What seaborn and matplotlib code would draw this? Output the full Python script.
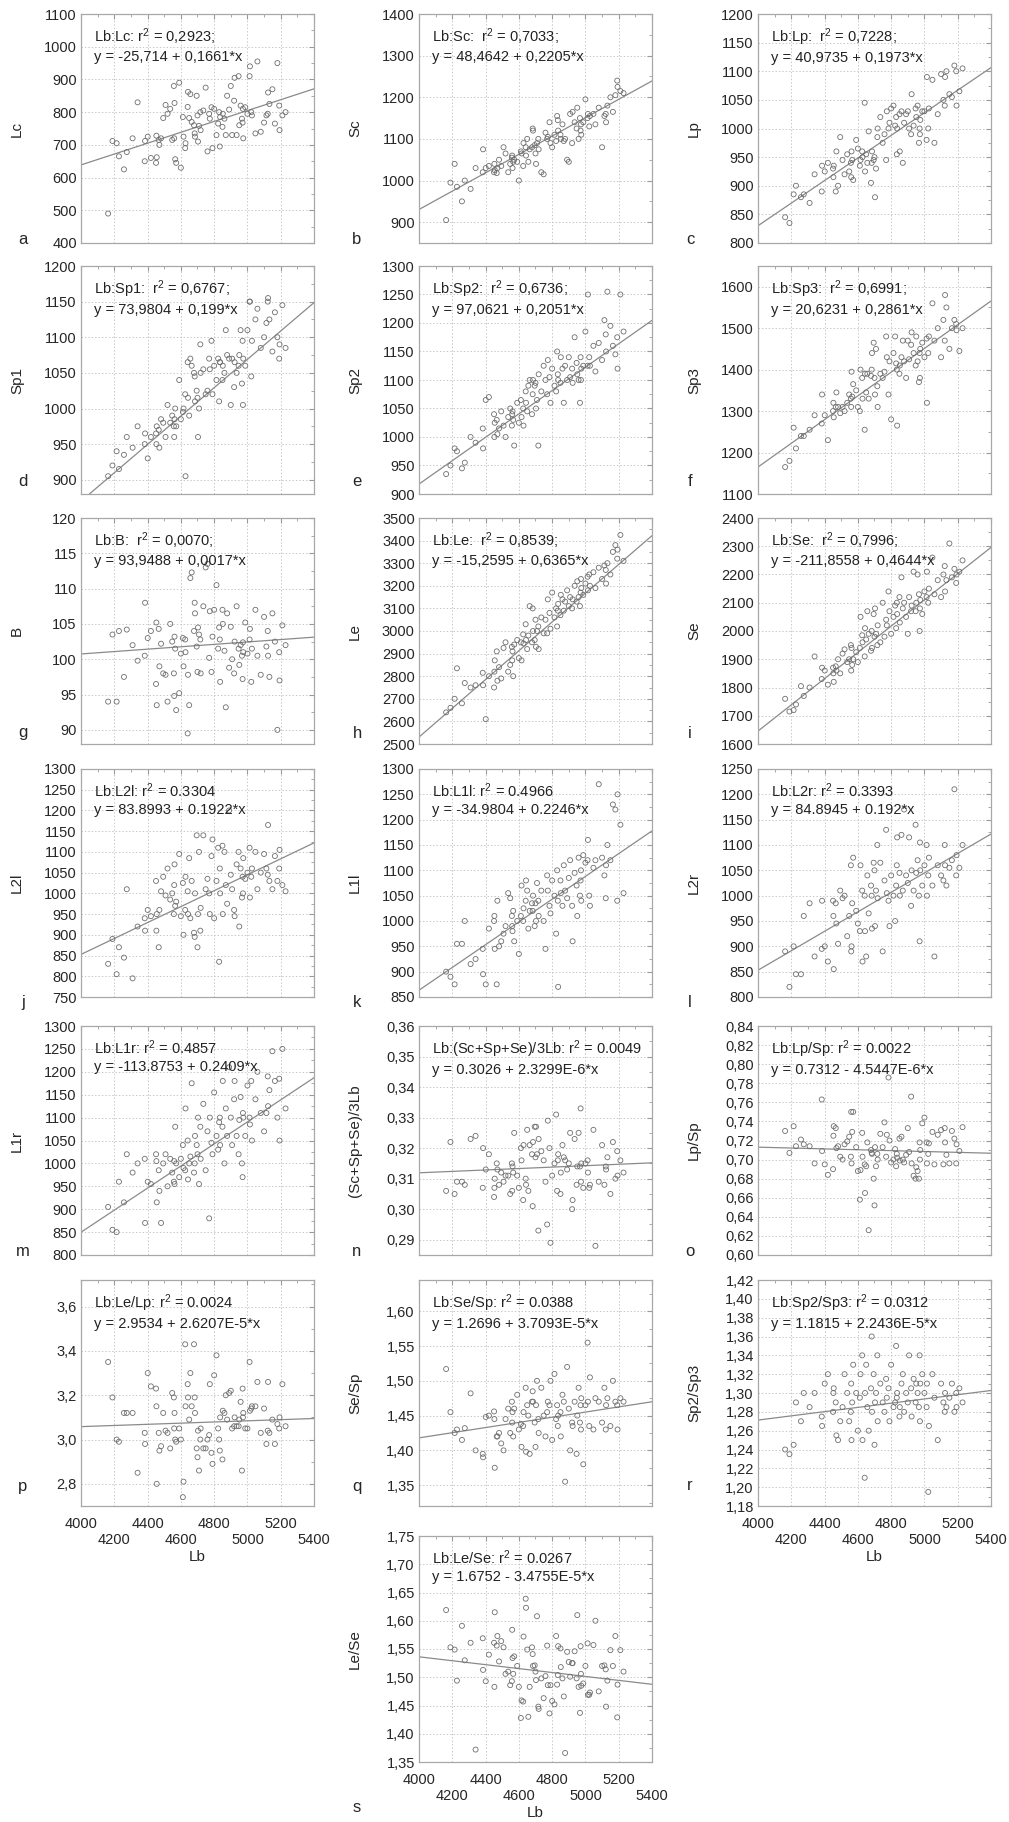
import numpy as np
import pandas as pd
import seaborn as sns
import matplotlib.pyplot as plt
import matplotlib.ticker as ticker

sns.set_style("white")
plt.rcParams['font.family'] = ['Liberation Sans', 'DejaVu Sans']
plt.rcParams['mathtext.fontset'] = 'custom'
plt.rcParams['mathtext.rm'] = 'Liberation Sans'
plt.rcParams['mathtext.it'] = 'Liberation Sans:italic'

# Lb (x for every panel)
lb = [4163, 4189, 4214, 4228, 4258, 4275, 4310, 4340, 4383, 4385,
      4401, 4420, 4451, 4453, 4455, 4467, 4471, 4481, 4494, 4508,
      4520, 4536, 4548, 4558, 4560, 4562, 4566, 4572, 4590, 4600,
      4612, 4616, 4626, 4628, 4641, 4643, 4650, 4657, 4665, 4679,
      4683, 4685, 4695, 4700, 4703, 4709, 4717, 4719, 4735, 4749,
      4760, 4770, 4774, 4784, 4790, 4800, 4814, 4824, 4830, 4834,
      4836, 4850, 4852, 4862, 4870, 4878, 4890, 4900, 4908, 4920,
      4923, 4935, 4947, 4951, 4959, 4967, 4971, 4973, 4975, 4987,
      5000, 5013, 5015, 5023, 5027, 5048, 5060, 5080, 5100, 5114,
      5122, 5124, 5132, 5150, 5165, 5180, 5191, 5193, 5210, 5229]

lc = [490, 712, 705, 665, 625, 678, 720, 830, 650, 712,
      725, 660, 645, 728, 662, 715, 700, 720, 782, 822,
      795, 810, 715, 880, 720, 828, 656, 645, 890, 630,
      785, 725, 690, 705, 816, 862, 782, 855, 770, 760,
      735, 725, 850, 790, 710, 758, 800, 745, 805, 875,
      680, 795, 780, 815, 690, 810, 730, 765, 800, 695,
      785, 755, 795, 780, 730, 850, 808, 880, 730, 835,
      905, 730, 910, 760, 820, 780, 768, 810, 720, 815,
      795, 910, 940, 800, 790, 735, 955, 740, 768, 790,
      795, 860, 825, 870, 765, 950, 820, 745, 790, 800]

sc = [905, 995, 1040, 985, 950, 1000, 980, 1030, 1020, 1075,
      1030, 1035, 1020, 1040, 1025, 1018, 1030, 1050, 1035, 1080,
      1065, 1020, 1040, 1055, 1060, 1030, 1045, 1050, 1045, 1000,
      1070, 1065, 1035, 1090, 1080, 1060, 1100, 1045, 1075, 1080,
      1125, 1120, 1085, 1065, 1040, 1090, 1100, 1075, 1020, 1015,
      1115, 1100, 1105, 1140, 1090, 1080, 1110, 1095, 1155, 1145,
      1120, 1110, 1100, 1135, 1095, 1100, 1050, 1045, 1160, 1090,
      1165, 1140, 1125, 1175, 1100, 1150, 1120, 1135, 1110, 1140,
      1195, 1150, 1160, 1130, 1155, 1160, 1135, 1175, 1080, 1155,
      1160, 1140, 1180, 1200, 1165, 1205, 1240, 1225, 1215, 1210]

lp = [845, 835, 885, 900, 880, 885, 870, 920, 890, 935,
      925, 940, 930, 915, 935, 890, 960, 900, 985, 945,
      920, 955, 925, 940, 915, 960, 945, 910, 980, 965,
      935, 945, 960, 950, 1045, 925, 955, 940, 995, 905,
      940, 960, 945, 950, 880, 930, 985, 1000, 1020, 975,
      990, 945, 1030, 1000, 1010, 1035, 1040, 1005, 1020, 955,
      1000, 1025, 960, 1030, 940, 1010, 1025, 1030, 1000, 990,
      1060, 1005, 1035, 1020, 1040, 975, 1000, 990, 1015, 1030,
      1030, 980, 1090, 1000, 1035, 1085, 975, 1025, 1095, 1050,
      1040, 1090, 1100, 1060, 1055, 1110, 1100, 1040, 1065, 1105]

sp1 = [905, 920, 940, 915, 935, 960, 945, 975, 950, 965,
       930, 960, 965, 950, 975, 970, 945, 985, 980, 960,
       1005, 980, 990, 975, 960, 985, 1000, 975, 1040, 985,
       995, 1000, 1020, 905, 1065, 1015, 990, 1070, 1060, 1050,
       1045, 1010, 1025, 1015, 960, 1000, 1090, 1050, 1055, 1020,
       1025, 1070, 1055, 1095, 1020, 1060, 1040, 1070, 1010, 1065,
       1065, 1040, 1060, 1050, 1110, 1075, 1070, 1005, 1070, 1030,
       1065, 1050, 1060, 1075, 1110, 1035, 1095, 1005, 1070, 1060,
       1110, 1150, 1150, 1045, 1095, 1125, 1140, 1085, 1100, 1120,
       1150, 1155, 1125, 1080, 1135, 1100, 1070, 1090, 1145, 1085]

sp2 = [935, 950, 980, 975, 945, 955, 1000, 990, 1015, 980,
       1065, 1070, 1040, 1000, 1025, 1030, 1005, 1015, 1045, 1020,
       1000, 1035, 1050, 1020, 1040, 1045, 1030, 985, 1060, 1025,
       1065, 1035, 1050, 1020, 1080, 1060, 1045, 1090, 1100, 1040,
       1075, 1100, 1090, 1095, 1050, 1065, 985, 1110, 1080, 1125,
       1100, 1075, 1135, 1105, 1060, 1120, 1090, 1080, 1150, 1110,
       1100, 1095, 1140, 1120, 1060, 1125, 1100, 1140, 1105, 1120,
       1095, 1175, 1130, 1110, 1100, 1060, 1140, 1100, 1120, 1125,
       1185, 1125, 1250, 1140, 1125, 1160, 1115, 1165, 1135, 1205,
       1180, 1150, 1255, 1195, 1160, 1145, 1175, 1120, 1250, 1185]

sp3 = [1165, 1180, 1260, 1210, 1240, 1240, 1255, 1290, 1270, 1340,
       1290, 1230, 1300, 1320, 1285, 1310, 1345, 1310, 1295, 1310,
       1300, 1320, 1340, 1330, 1310, 1395, 1335, 1365, 1350, 1310,
       1300, 1400, 1380, 1330, 1255, 1390, 1345, 1390, 1330, 1385,
       1400, 1440, 1465, 1380, 1340, 1450, 1360, 1310, 1390, 1380,
       1395, 1480, 1430, 1340, 1420, 1280, 1440, 1480, 1415, 1400,
       1265, 1390, 1410, 1430, 1470, 1420, 1380, 1470, 1425, 1460,
       1490, 1440, 1410, 1480, 1420, 1370, 1440, 1380, 1450, 1465,
       1430, 1475, 1320, 1440, 1480, 1560, 1470, 1500, 1430, 1520,
       1470, 1580, 1550, 1450, 1500, 1520, 1510, 1495, 1445, 1500]

b_val = [94.0, 103.5, 94.0, 104.0, 97.5, 104.2, 102.0, 99.8, 100.5, 108.0,
         103.0, 104.0, 96.5, 105.2, 93.5, 104.3, 99.0, 102.2, 98.0, 97.8,
         94.0, 105.0, 102.5, 98.0, 94.8, 103.2, 101.5, 92.8, 95.2, 100.8,
         103.0, 99.0, 102.8, 101.0, 89.5, 97.8, 93.5, 111.5, 112.3, 104.0,
         108.0, 106.5, 101.8, 98.2, 104.5, 103.5, 102.8, 98.0, 107.5, 113.0,
         113.5, 100.2, 106.8, 98.2, 103.2, 107.0, 110.5, 101.5, 104.5, 102.8,
         96.8, 107.0, 105.0, 101.2, 93.2, 106.5, 98.8, 104.6, 100.0, 98.0,
         102.5, 107.5, 101.5, 99.2, 102.0, 100.5, 97.2, 102.4, 101.0, 105.2,
         100.8, 102.8, 104.3, 96.8, 101.5, 107.0, 100.5, 97.8, 106.0, 101.8,
         104.0, 100.5, 97.5, 106.5, 102.5, 90.0, 101.0, 97.0, 104.8, 102.0]

le = [2640, 2660, 2700, 2835, 2680, 2770, 2750, 2760, 2815, 2760,
      2610, 2800, 2750, 2820, 2870, 2910, 2780, 2840, 2790, 2925,
      2950, 2820, 2850, 2930, 2870, 2910, 2800, 2940, 2960, 2880,
      2950, 2870, 2985, 2945, 3030, 2960, 2920, 2980, 3110, 2950,
      3100, 3000, 2960, 3050, 2930, 3000, 3020, 2920, 3060, 2990,
      3050, 2990, 3140, 3080, 3010, 3170, 3060, 3100, 3020, 3090,
      3120, 3070, 3160, 3140, 3090, 3130, 3180, 3110, 3150, 3100,
      3140, 3200, 3130, 3220, 3150, 3110, 3170, 3230, 3190, 3160,
      3210, 3240, 3180, 3250, 3200, 3260, 3190, 3280, 3230, 3290,
      3270, 3210, 3300, 3250, 3350, 3380, 3320, 3360, 3425, 3310]

se = [1760, 1715, 1720, 1740, 1805, 1770, 1800, 1910, 1830, 1870,
      1860, 1810, 1870, 1850, 1820, 1875, 1860, 1900, 1850, 1920,
      1935, 1890, 1900, 1950, 1860, 1940, 1880, 1900, 1925, 1890,
      1940, 2050, 1985, 1960, 1910, 2010, 1970, 2070, 1990, 1930,
      2000, 1940, 2060, 1980, 2080, 1990, 1950, 2020, 1960, 2100,
      1980, 2040, 2020, 2140, 2070, 1990, 2050, 2090, 2010, 2100,
      2060, 2120, 2030, 2190, 2080, 2100, 2050, 1990, 2120, 2070,
      2090, 2210, 2070, 2100, 2200, 2130, 2000, 2080, 2110, 2060,
      2140, 2120, 2210, 2100, 2150, 2260, 2130, 2180, 2120, 2200,
      2230, 2140, 2180, 2310, 2190, 2220, 2170, 2200, 2210, 2250]

l2l = [830, 890, 805, 870, 845, 1010, 795, 920, 940, 910,
       960, 945, 1030, 910, 950, 870, 960, 1005, 1040, 995,
       1060, 985, 1000, 950, 1020, 1070, 970, 980, 1095, 945,
       1025, 900, 960, 1040, 1005, 950, 1085, 940, 1030, 905,
       895, 1000, 1140, 870, 950, 1100, 910, 965, 1140, 1010,
       1035, 1000, 950, 1090, 1130, 940, 1030, 1110, 835, 1060,
       1000, 1115, 950, 1100, 1020, 975, 1200, 1045, 1010, 960,
       945, 1070, 1100, 920, 1060, 990, 1040, 1000, 1085, 1035,
       1050, 1110, 990, 1040, 1060, 1100, 1010, 1050, 1095, 1060,
       1045, 1165, 1030, 1010, 1090, 1030, 1060, 1105, 1020, 1005]

l1l = [900, 890, 875, 955, 955, 1000, 915, 925, 945, 895,
       875, 985, 1000, 1010, 945, 875, 1040, 950, 960, 975,
       990, 1055, 1045, 1010, 990, 980, 1020, 960, 1000, 935,
       1010, 1070, 1000, 1025, 1040, 1080, 1060, 985, 1020, 1035,
       1020, 1050, 990, 1035, 1000, 1075, 1040, 1010, 1060, 1000,
       945, 1090, 1060, 1030, 1015, 1080, 1050, 975, 1100, 1040,
       870, 1080, 1055, 1030, 1110, 1060, 1045, 1085, 1120, 1030,
       960, 1095, 1070, 1010, 1125, 1050, 1080, 1100, 1040, 1130,
       1115, 1120, 1160, 1050, 1030, 1105, 1120, 1270, 1125, 1090,
       1045, 1110, 1150, 1120, 1230, 1220, 1040, 1250, 1190, 1055]

l2r = [890, 820, 900, 845, 845, 960, 985, 880, 895, 990,
       900, 870, 990, 960, 855, 985, 945, 905, 1010, 995,
       1000, 920, 960, 1060, 890, 900, 985, 1075, 970, 945,
       930, 1060, 1010, 870, 1000, 930, 880, 1040, 965, 1020,
       1000, 935, 1065, 1050, 940, 1010, 1100, 995, 1065, 890,
       1030, 1130, 1005, 990, 940, 1040, 1000, 950, 1020, 1060,
       1115, 1045, 1000, 1120, 1010, 1170, 1040, 1025, 1115, 980,
       1050, 1010, 1140, 1045, 1070, 1000, 910, 1105, 1050, 1020,
       1060, 1100, 1000, 1040, 1075, 1020, 880, 1060, 1040, 1030,
       1100, 1060, 1020, 1055, 1070, 1210, 1040, 1080, 1055, 1100]

l1r = [905, 855, 850, 960, 915, 1020, 980, 1000, 1010, 870,
       960, 955, 1020, 1005, 915, 985, 940, 870, 1000, 1020,
       950, 1010, 980, 960, 1005, 955, 1080, 1000, 970, 1010,
       1040, 990, 985, 1120, 1050, 965, 1000, 1015, 1175, 980,
       1000, 1060, 1040, 1020, 1100, 955, 1080, 1010, 1130, 985,
       1070, 880, 1100, 1045, 1020, 1155, 1060, 1030, 1090, 1100,
       1040, 1080, 1180, 1000, 1120, 1060, 1210, 1100, 1040, 1140,
       1180, 1060, 1020, 1095, 1145, 1000, 970, 1110, 1100, 1060,
       1170, 1100, 1085, 1180, 1050, 1140, 1200, 1110, 1070, 1110,
       1190, 1125, 1160, 1245, 1180, 1100, 1185, 1050, 1250, 1120]

sum3_lb = [0.306, 0.322, 0.305, 0.309, 0.309, 0.308, 0.323, 0.324, 0.307, 0.320,
           0.313, 0.318, 0.304, 0.307, 0.310, 0.315, 0.313, 0.308, 0.312, 0.309,
           0.311, 0.311, 0.305, 0.315, 0.306, 0.314, 0.312, 0.325, 0.311, 0.307,
           0.320, 0.316, 0.303, 0.321, 0.310, 0.308, 0.326, 0.306, 0.321, 0.318,
           0.301, 0.322, 0.327, 0.317, 0.327, 0.318, 0.293, 0.323, 0.319, 0.316,
           0.309, 0.295, 0.329, 0.320, 0.289, 0.311, 0.315, 0.331, 0.306, 0.316,
           0.318, 0.305, 0.312, 0.321, 0.317, 0.316, 0.313, 0.315, 0.325, 0.300,
           0.303, 0.323, 0.308, 0.314, 0.325, 0.314, 0.333, 0.309, 0.315, 0.307,
           0.315, 0.316, 0.312, 0.307, 0.308, 0.326, 0.288, 0.309, 0.321, 0.308,
           0.314, 0.313, 0.317, 0.305, 0.322, 0.310, 0.319, 0.311, 0.316, 0.312]

lp_sp = [0.730, 0.707, 0.735, 0.714, 0.721, 0.716, 0.714, 0.696, 0.763, 0.709,
         0.695, 0.684, 0.690, 0.725, 0.735, 0.733, 0.712, 0.714, 0.703, 0.700,
         0.716, 0.719, 0.724, 0.703, 0.750, 0.696, 0.729, 0.750, 0.713, 0.688,
         0.658, 0.689, 0.728, 0.703, 0.695, 0.665, 0.693, 0.718, 0.626, 0.710,
         0.707, 0.706, 0.680, 0.652, 0.713, 0.693, 0.706, 0.700, 0.727, 0.713,
         0.739, 0.703, 0.726, 0.786, 0.720, 0.697, 0.700, 0.711, 0.693, 0.706,
         0.702, 0.722, 0.699, 0.724, 0.700, 0.697, 0.705, 0.733, 0.708, 0.766,
         0.696, 0.683, 0.680, 0.692, 0.688, 0.680, 0.718, 0.700, 0.710, 0.738,
         0.744, 0.718, 0.696, 0.706, 0.717, 0.729, 0.695, 0.726, 0.731, 0.695,
         0.733, 0.718, 0.705, 0.696, 0.730, 0.722, 0.696, 0.716, 0.709, 0.734]

le_lp = [3.35, 3.19, 3.00, 2.99, 3.12, 3.12, 3.12, 2.85, 3.03, 2.98,
         3.30, 3.24, 3.23, 3.15, 2.80, 3.03, 2.95, 2.97, 3.12, 3.04,
         3.03, 2.96, 3.21, 3.19, 3.05, 3.12, 3.00, 2.99, 3.05, 3.00,
         2.74, 2.81, 3.43, 3.15, 3.25, 3.19, 3.09, 3.30, 3.15, 3.43,
         3.19, 3.12, 2.96, 2.92, 3.04, 2.86, 3.00, 3.05, 2.96, 2.96,
         3.00, 3.02, 3.25, 2.94, 2.89, 3.29, 3.38, 3.05, 3.00, 2.95,
         3.10, 2.91, 3.13, 3.12, 3.20, 3.09, 3.21, 3.22, 3.05, 3.06,
         3.10, 3.06, 3.06, 3.09, 3.17, 2.86, 3.23, 3.10, 3.12, 3.05,
         3.05, 3.35, 3.13, 3.14, 3.15, 3.15, 3.26, 3.03, 3.14, 2.98,
         3.04, 3.26, 3.03, 3.09, 2.98, 3.07, 3.05, 3.10, 3.25, 3.06]

se_sp = [1.517, 1.455, 1.425, 1.430, 1.415, 1.432, 1.482, 1.400, 1.395, 1.390,
         1.448, 1.450, 1.456, 1.445, 1.375, 1.420, 1.420, 1.425, 1.410, 1.400,
         1.445, 1.460, 1.425, 1.470, 1.440, 1.455, 1.420, 1.460, 1.480, 1.430,
         1.438, 1.405, 1.435, 1.455, 1.490, 1.398, 1.465, 1.450, 1.395, 1.470,
         1.485, 1.470, 1.440, 1.405, 1.465, 1.500, 1.445, 1.425, 1.490, 1.450,
         1.420, 1.455, 1.470, 1.465, 1.500, 1.415, 1.510, 1.445, 1.465, 1.435,
         1.450, 1.455, 1.420, 1.480, 1.470, 1.355, 1.520, 1.460, 1.400, 1.440,
         1.435, 1.470, 1.395, 1.450, 1.490, 1.440, 1.465, 1.430, 1.475, 1.380,
         1.465, 1.555, 1.470, 1.435, 1.505, 1.430, 1.475, 1.470, 1.440, 1.490,
         1.430, 1.465, 1.475, 1.435, 1.500, 1.470, 1.465, 1.430, 1.475, 1.470]

sp2_sp3 = [1.240, 1.235, 1.245, 1.290, 1.270, 1.300, 1.285, 1.300, 1.275, 1.265,
           1.310, 1.320, 1.280, 1.300, 1.305, 1.290, 1.255, 1.250, 1.270, 1.285,
           1.320, 1.300, 1.270, 1.280, 1.310, 1.250, 1.290, 1.330, 1.300, 1.260,
           1.295, 1.320, 1.340, 1.250, 1.210, 1.300, 1.330, 1.285, 1.260, 1.305,
           1.360, 1.280, 1.320, 1.245, 1.290, 1.300, 1.340, 1.270, 1.310, 1.290,
           1.280, 1.315, 1.295, 1.305, 1.270, 1.330, 1.285, 1.290, 1.350, 1.295,
           1.300, 1.275, 1.285, 1.310, 1.320, 1.280, 1.300, 1.290, 1.340, 1.305,
           1.275, 1.315, 1.290, 1.310, 1.300, 1.285, 1.340, 1.270, 1.310, 1.320,
           1.300, 1.285, 1.310, 1.195, 1.265, 1.320, 1.295, 1.250, 1.310, 1.290,
           1.280, 1.300, 1.285, 1.295, 1.310, 1.280, 1.300, 1.285, 1.305, 1.290]

le_se = [1.619, 1.553, 1.549, 1.494, 1.591, 1.530, 1.561, 1.372, 1.569, 1.513,
         1.493, 1.540, 1.561, 1.483, 1.615, 1.556, 1.573, 1.528, 1.564, 1.553,
         1.506, 1.510, 1.486, 1.493, 1.584, 1.534, 1.506, 1.537, 1.520, 1.483,
         1.428, 1.459, 1.457, 1.572, 1.639, 1.623, 1.549, 1.430, 1.483, 1.553,
         1.541, 1.520, 1.521, 1.510, 1.495, 1.608, 1.448, 1.444, 1.498, 1.463,
         1.502, 1.556, 1.486, 1.436, 1.486, 1.458, 1.452, 1.573, 1.487, 1.504,
         1.555, 1.551, 1.518, 1.498, 1.466, 1.366, 1.545, 1.527, 1.501, 1.525,
         1.525, 1.546, 1.498, 1.610, 1.483, 1.437, 1.555, 1.506, 1.485, 1.489,
         1.520, 1.560, 1.469, 1.469, 1.473, 1.557, 1.600, 1.475, 1.520, 1.521,
         1.514, 1.448, 1.494, 1.548, 1.520, 1.573, 1.429, 1.487, 1.548, 1.510]

# regression lines as printed on the panels
intercepts = [-25.714, 48.4642, 40.9735, 73.9804, 97.0621, 20.6231, 93.9488, -15.2595, -211.8558,
              83.8993, -34.9804, 84.8945, -113.8753, 0.3026, 0.7312, 2.9534, 1.2696, 1.1815, 1.6752]
slopes = [0.1661, 0.2205, 0.1973, 0.199, 0.2051, 0.2861, 0.0017, 0.6365, 0.4644,
          0.1922, 0.2246, 0.192, 0.2409, 2.3299e-6, -4.5447e-6, 2.6207e-5, 3.7093e-5, 2.2436e-5, -3.4755e-5]

letters = list("abcdefghijklmnopqrs")
ylabels = ["Lc", "Sc", "Lp", "Sp1", "Sp2", "Sp3", "B", "Le", "Se", "L2l", "L1l", "L2r", "L1r",
           "(Sc+Sp+Se)/3Lb", "Lp/Sp", "", "Se/Sp", "Sp2/Sp3", "Le/Se"]
notes = [
    ("Lb:Lc: r$^2$ = 0,2923;", "y = -25,714 + 0,1661*x"),
    ("Lb:Sc:  r$^2$ = 0,7033;", "y = 48,4642 + 0,2205*x"),
    ("Lb:Lp:  r$^2$ = 0,7228;", "y = 40,9735 + 0,1973*x"),
    ("Lb:Sp1:  r$^2$ = 0,6767;", "y = 73,9804 + 0,199*x"),
    ("Lb:Sp2:  r$^2$ = 0,6736;", "y = 97,0621 + 0,2051*x"),
    ("Lb:Sp3:  r$^2$ = 0,6991;", "y = 20,6231 + 0,2861*x"),
    ("Lb:B:  r$^2$ = 0,0070;", "y = 93,9488 + 0,0017*x"),
    ("Lb:Le:  r$^2$ = 0,8539;", "y = -15,2595 + 0,6365*x"),
    ("Lb:Se:  r$^2$ = 0,7996;", "y = -211,8558 + 0,4644*x"),
    ("Lb:L2l: r$^2$ = 0.3304", "y = 83.8993 + 0.1922*x"),
    ("Lb:L1l: r$^2$ = 0.4966", "y = -34.9804 + 0.2246*x"),
    ("Lb:L2r: r$^2$ = 0.3393", "y = 84.8945 + 0.192*x"),
    ("Lb:L1r: r$^2$ = 0.4857", "y = -113.8753 + 0.2409*x"),
    ("Lb:(Sc+Sp+Se)/3Lb: r$^2$ = 0.0049", "y = 0.3026 + 2.3299E-6*x"),
    ("Lb:Lp/Sp: r$^2$ = 0.0022", "y = 0.7312 - 4.5447E-6*x"),
    ("Lb:Le/Lp: r$^2$ = 0.0024", "y = 2.9534 + 2.6207E-5*x"),
    ("Lb:Se/Sp: r$^2$ = 0.0388", "y = 1.2696 + 3.7093E-5*x"),
    ("Lb:Sp2/Sp3: r$^2$ = 0.0312", "y = 1.1815 + 2.2436E-5*x"),
    ("Lb:Le/Se: r$^2$ = 0.0267", "y = 1.6752 - 3.4755E-5*x"),
]
series = [lc, sc, lp, sp1, sp2, sp3, b_val, le, se, l2l, l1l, l2r, l1r,
          sum3_lb, lp_sp, le_lp, se_sp, sp2_sp3, le_se]

# axis settings per panel: (ymin, ymax, step, decimals)
yaxes = [(400, 1100, 100, 0), (850, 1400, 100, 0), (800, 1200, 50, 0),
         (880, 1200, 50, 0), (900, 1300, 50, 0), (1100, 1650, 100, 0),
         (88, 120, 5, 0), (2500, 3500, 100, 0), (1600, 2400, 100, 0),
         (750, 1300, 50, 0), (850, 1300, 50, 0), (800, 1250, 50, 0),
         (800, 1300, 50, 0), (0.285, 0.36, 0.01, 2), (0.60, 0.84, 0.02, 2),
         (2.7, 3.72, 0.2, 1), (1.32, 1.645, 0.05, 2), (1.18, 1.42, 0.02, 2),
         (1.35, 1.75, 0.05, 2)]

W, H = 1009, 1822
fig = plt.figure(figsize=(W / 100, H / 100), dpi=100)

row_top = [14, 266, 518, 769, 1026, 1280, 1536]
row_bot = [243, 494, 744, 997, 1255, 1506, 1762]
col_left = [81, 419, 758]
letter_x = [23, 357, 690]
letter_y = [240, 482, 733, 1003, 1252, 1486, 1807]
box_w = 233
grey = "#8a8a8a"


def comma_fmt(dec):
    return ticker.FuncFormatter(lambda v, p: f"{v:.{dec}f}".replace(".", ","))


def xlab(v, p):
    k = int(round((v - 4000) / 200))
    return f"{int(v)}" if k % 2 == 0 else f"\n{int(v)}"


for i in range(19):
    if i < 18:
        r, c = divmod(i, 3)
    else:
        r, c = 6, 1
    left, top, bot = col_left[c], row_top[r], row_bot[r]
    ax = fig.add_axes([left / W, 1 - bot / H, box_w / W, (bot - top) / H])
    df = pd.DataFrame({"Lb": lb, "y": series[i]})
    sns.scatterplot(data=df, x="Lb", y="y", ax=ax, marker="o", s=13,
                    facecolor="none", edgecolor="#6e6e6e", linewidth=0.6, zorder=3)
    ax.axline((0, intercepts[i]), slope=slopes[i], color=grey, lw=0.9, zorder=2)

    ymin, ymax, step, dec = yaxes[i]
    ax.set_xlim(4000, 5400)
    ax.set_ylim(ymin, ymax)
    ax.xaxis.set_major_locator(ticker.MultipleLocator(200))
    ax.xaxis.set_minor_locator(ticker.MultipleLocator(100))
    ax.yaxis.set_major_locator(ticker.MultipleLocator(step))
    ax.yaxis.set_minor_locator(ticker.AutoMinorLocator(2))
    ax.yaxis.set_major_formatter(comma_fmt(dec))
    ax.grid(True, which="major", color="#c8c8c8", linestyle=(0, (1.5, 2)), linewidth=0.7)
    ax.tick_params(which="both", direction="in", top=True, right=True, color="#9a9a9a",
                   labelsize=10.5, pad=3)
    ax.tick_params(which="major", length=3.5)
    ax.tick_params(which="minor", length=2)
    for sp in ax.spines.values():
        sp.set_color("#a8a8a8")
        sp.set_linewidth(0.9)

    bottom_panel = i in (15, 17, 18)
    if bottom_panel:
        ax.xaxis.set_major_formatter(ticker.FuncFormatter(xlab))
        ax.tick_params(axis="x", which="major", pad=8)
        ax.set_xlabel("Lb", fontsize=11, labelpad=2)
    else:
        ax.xaxis.set_major_formatter(ticker.NullFormatter())
        ax.set_xlabel("")
    ax.set_ylabel(ylabels[i], fontsize=11)
    ax.yaxis.set_label_coords(-0.245, 0.5)

    ax.text(0.055, 0.945, notes[i][0] + "\n" + notes[i][1], transform=ax.transAxes,
            ha="left", va="top", fontsize=10.5, linespacing=1.25, color="#222222")
    fig.text(letter_x[c] / W, 1 - letter_y[r] / H, letters[i], fontsize=12,
             ha="center", va="center")

fig.savefig("out.png", dpi=100)
